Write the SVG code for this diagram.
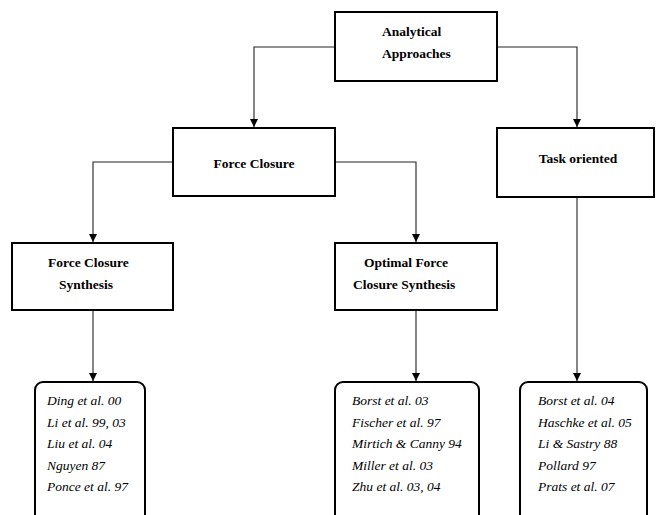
<svg xmlns="http://www.w3.org/2000/svg" width="656" height="515" viewBox="0 0 656 515">
<style>
.box{fill:#fff;stroke:#000;stroke-width:2}
.lbl{font-family:"Liberation Serif","Times New Roman",serif;font-weight:bold;font-size:13.5px;fill:#000}
.ref{font-family:"Liberation Serif","Times New Roman",serif;font-style:italic;font-size:13.5px;fill:#000}
.con{fill:none;stroke:#222;stroke-width:1.1}
</style>
<defs>
<marker id="ah" viewBox="0 0 8 12" refX="8" refY="6" markerWidth="8" markerHeight="12" markerUnits="userSpaceOnUse" orient="auto">
<path d="M0,2 L8,6 L0,10 z" fill="#000"/>
</marker>
</defs>
<rect width="656" height="515" fill="#fff"/>
<g id="connectors">
<path class="con" d="M335,47 H254 V127" marker-end="url(#ah)"/>
<path class="con" d="M497,47 H577 V127" marker-end="url(#ah)"/>
<path class="con" d="M173,162 H93 V242" marker-end="url(#ah)"/>
<path class="con" d="M335,162 H416 V242" marker-end="url(#ah)"/>
<path class="con" d="M93,310 V381" marker-end="url(#ah)"/>
<path class="con" d="M416,310 V381" marker-end="url(#ah)"/>
<path class="con" d="M577,197 V381" marker-end="url(#ah)"/>
</g>
<g id="analytical">
<rect class="box" x="335" y="12" width="162" height="69"/>
<text class="lbl" x="382" y="36">Analytical</text>
<text class="lbl" x="382" y="58">Approaches</text>
</g>
<g id="force-closure">
<rect class="box" x="173" y="128" width="162" height="68"/>
<text class="lbl" x="254" y="168" text-anchor="middle">Force Closure</text>
</g>
<g id="task-oriented">
<rect class="box" x="497" y="128" width="157" height="69"/>
<text class="lbl" x="578" y="163" text-anchor="middle">Task oriented</text>
</g>
<g id="fc-synthesis">
<rect class="box" x="12" y="243" width="161" height="67"/>
<text class="lbl" x="48" y="267">Force Closure</text>
<text class="lbl" x="59" y="289">Synthesis</text>
</g>
<g id="optimal-fc">
<rect class="box" x="335" y="243" width="162" height="67"/>
<text class="lbl" x="364" y="267">Optimal Force</text>
<text class="lbl" x="353" y="289">Closure Synthesis</text>
</g>
<g id="refs-fcs">
<rect class="box" x="35" y="382" width="110" height="150" rx="8"/>
<text class="ref" x="47" y="405">Ding et al. 00</text>
<text class="ref" x="47" y="426.5">Li et al. 99, 03</text>
<text class="ref" x="47" y="448">Liu et al. 04</text>
<text class="ref" x="47" y="469.5">Nguyen 87</text>
<text class="ref" x="47" y="491">Ponce et al. 97</text>
</g>
<g id="refs-ofcs">
<rect class="box" x="335" y="382" width="144" height="150" rx="8"/>
<text class="ref" x="352" y="405">Borst et al. 03</text>
<text class="ref" x="352" y="426.5">Fischer et al. 97</text>
<text class="ref" x="352" y="448">Mirtich &amp; Canny 94</text>
<text class="ref" x="352" y="469.5">Miller et al. 03</text>
<text class="ref" x="352" y="491">Zhu et al. 03, 04</text>
</g>
<g id="refs-task">
<rect class="box" x="520" y="382" width="127" height="150" rx="8"/>
<text class="ref" x="538" y="405">Borst et al. 04</text>
<text class="ref" x="538" y="426.5">Haschke et al. 05</text>
<text class="ref" x="538" y="448">Li &amp; Sastry 88</text>
<text class="ref" x="538" y="469.5">Pollard 97</text>
<text class="ref" x="538" y="491">Prats et al. 07</text>
</g>
</svg>
